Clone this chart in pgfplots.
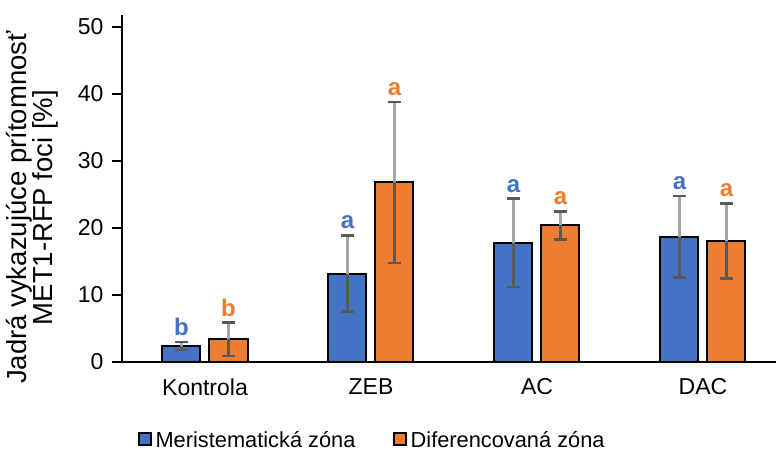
\documentclass[border=0pt]{standalone}
\usepackage{fontspec}
\setmainfont{Liberation Sans}
\usepackage{pgfplots}
\usepackage{pgfplotstable}
\pgfplotsset{compat=1.18}
\definecolor{cblue}{HTML}{4472C4}
\definecolor{corange}{HTML}{ED7D31}
\definecolor{edark}{HTML}{595959}
\definecolor{elight}{HTML}{A6A6A6}
\pgfplotstableread{
x m me ml d de dl
0 2.4 0.6 b 3.4 2.5 b
1 13.2 5.7 a 26.8 12.0 a
2 17.8 6.6 a 20.4 2.1 a
3 18.7 6.1 a 18.1 5.6 a
}\data
\begin{document}
\begin{tikzpicture}
\useasboundingbox (0,0) rectangle (776bp,451bp);
\begin{axis}[
  at={(122bp,89bp)}, anchor=south west, scale only axis,
  width=654bp, height=347bp,
  xmin=-0.5, xmax=3.44, ymin=0, ymax=51.8,
  axis lines=left, axis line style={-, line width=1.2bp, black},
  xtick={0,1,2,3}, xticklabels={Kontrola,ZEB,AC,DAC},
  x tick style={draw=none},
  ytick={0,10,20,30,40,50},
  y tick style={line width=1.2bp, black},
  tick align=outside, major tick length=10bp,
  /pgf/number format/assume math mode=true,
  ticklabel style={font=\fontsize{23bp}{26bp}\selectfont, text=black},
  yticklabel style={xshift=-5bp},
  xticklabel style={yshift=-3bp},
  ylabel={Jadrá vykazujúce prítomnosť\\MET1-RFP foci [\%]},
  ylabel style={at={(axis description cs:-0.137,0.445)}, anchor=center, align=center, font=\fontsize{27.5bp}{25bp}\selectfont},
  legend style={at={(0.383,-0.225)}, anchor=center, draw=none, legend columns=2,
    font=\fontsize{21.8bp}{24bp}\selectfont,
    /tikz/every even column/.append style={column sep=36bp}},
  legend image code/.code={\draw[#1, draw=black, line width=1.2bp] (0bp,-5bp) rectangle (12bp,7bp);},
  every error bar/.append style={line width=2.2bp},
]
% blue bars
\addplot[ybar, bar width=0.229, bar shift=0pt, fill=cblue, draw=black, line width=2bp,
  error bars/.cd, y dir=minus, y explicit,
  error bar style={edark, line width=2.2bp},
  error mark options={edark, line width=2.6bp, mark size=6.5bp, rotate=90}]
  table[x expr=\thisrow{x}-0.1416, y=m, y error=me] {\data};
\addlegendentry{\hspace{2bp}Meristematická zóna}
% orange bars
\addplot[ybar, bar width=0.229, bar shift=0pt, fill=corange, draw=black, line width=2bp,
  error bars/.cd, y dir=minus, y explicit,
  error bar style={edark, line width=2.2bp},
  error mark options={edark, line width=2.6bp, mark size=6.5bp, rotate=90}]
  table[x expr=\thisrow{x}+0.1416, y=d, y error=de] {\data};
\addlegendentry{\hspace{2bp}Diferencovaná zóna}
% upper error parts
\addplot[ybar, bar width=0.229, bar shift=0pt, draw=none, fill=none, forget plot,
  error bars/.cd, y dir=plus, y explicit,
  error bar style={elight, line width=2.2bp},
  error mark options={edark, line width=2.6bp, mark size=6.5bp, rotate=90}]
  table[x expr=\thisrow{x}-0.1416, y=m, y error=me] {\data};
\addplot[ybar, bar width=0.229, bar shift=0pt, draw=none, fill=none, forget plot,
  error bars/.cd, y dir=plus, y explicit,
  error bar style={elight, line width=2.2bp},
  error mark options={edark, line width=2.6bp, mark size=6.5bp, rotate=90}]
  table[x expr=\thisrow{x}+0.1416, y=d, y error=de] {\data};
% letters
\addplot[draw=none, mark=none, forget plot, nodes near coords, point meta=explicit symbolic,
  nodes near coords style={text=cblue, font=\fontsize{24bp}{26bp}\selectfont\bfseries, anchor=south, inner sep=0bp, yshift=6bp}]
  table[x expr=\thisrow{x}-0.1416, y expr=\thisrow{m}+\thisrow{me}, meta=ml] {\data};
\addplot[draw=none, mark=none, forget plot, nodes near coords, point meta=explicit symbolic,
  nodes near coords style={text=corange, font=\fontsize{24bp}{26bp}\selectfont\bfseries, anchor=south, inner sep=0bp, yshift=6bp}]
  table[x expr=\thisrow{x}+0.1416, y expr=\thisrow{d}+\thisrow{de}, meta=dl] {\data};
\end{axis}
\end{tikzpicture}
\end{document}
